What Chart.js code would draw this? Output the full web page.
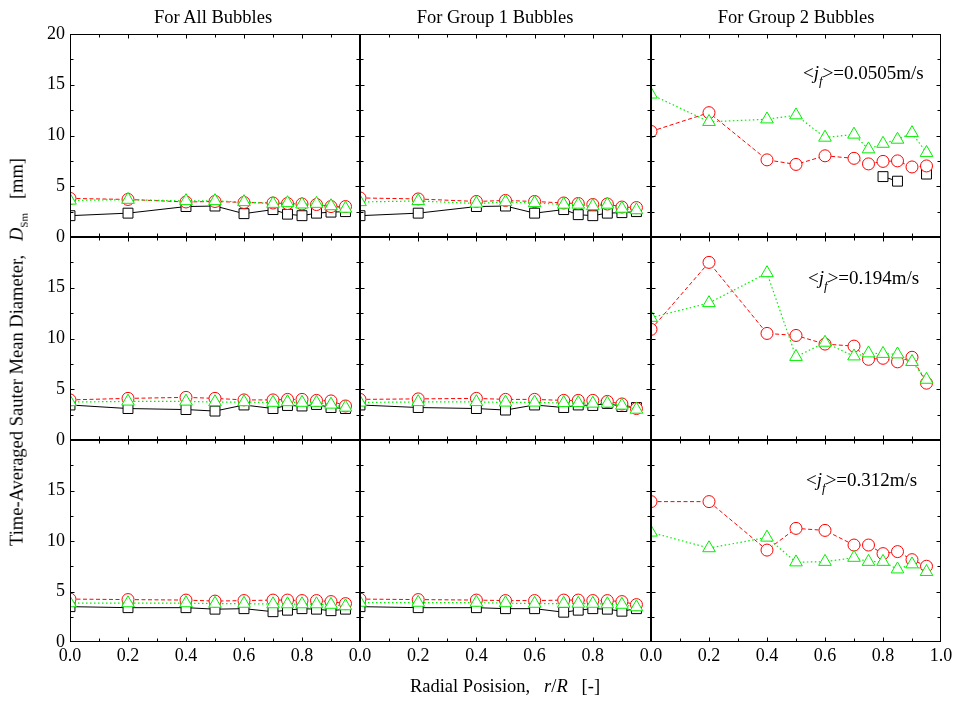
<!DOCTYPE html>
<html>
<head>
<meta charset="utf-8">
<script src="https://cdn.jsdelivr.net/npm/chart.js@4/dist/chart.umd.min.js"></script>
<style>
  html, body { margin: 0; padding: 0; background: #fff; }
  #wrap { position: relative; width: 956px; height: 702px; overflow: hidden; font-family: 'Liberation Serif', 'Times New Roman', serif; color: #000; }
  canvas { position: absolute; }
  .txt { position: absolute; white-space: nowrap; font-size: 18.5px; line-height: 20px; }
  .ctitle { transform: translateX(-50%); }
  .ann { font-size: 19px; line-height: 22px; }
  .ann sub { font-size: 13px; position: relative; top: 1px; }
  #ytitle { left: 20px; top: 352px; transform: translate(-50%, -50%) rotate(-90deg); }
  #ytitle sub { font-size: 11px; }
  #xtitle { left: 505px; top: 676px; transform: translateX(-50%); }
</style>
</head>
<body>
<div id="wrap"></div>
<script>
// ---------- data ----------
const radialPositions = [0, 0.2, 0.4, 0.5, 0.6, 0.7, 0.75, 0.8, 0.85, 0.9, 0.95];
const columnTitles = ['For All Bubbles', 'For Group 1 Bubbles', 'For Group 2 Bubbles'];
const flowLabels = ['0.0505', '0.194', '0.312'];
const yTickValues = [0, 5, 10, 15, 20];
const xTickLabelValues = [0, 0.2, 0.4, 0.6, 0.8, 1.0];

// jf = 0.0505 m/s
const all_j1_square   = [2.1, 2.35, 3.0, 3.05, 2.3, 2.7, 2.25, 2.1, 2.35, 2.45, 2.5];
const all_j1_circle   = [3.8, 3.7, 3.45, 3.5, 3.4, 3.35, 3.3, 3.25, 3.2, 3.0, 3.0];
const all_j1_triangle = [3.6, 3.68, 3.55, 3.55, 3.45, 3.28, 3.35, 3.22, 3.28, 3.05, 2.8];
const g1_j1_square    = [2.1, 2.35, 3.0, 3.05, 2.35, 2.7, 2.2, 2.1, 2.35, 2.4, 2.5];
const g1_j1_circle    = [3.85, 3.75, 3.5, 3.6, 3.5, 3.35, 3.3, 3.2, 3.25, 2.95, 2.9];
const g1_j1_triangle  = [3.45, 3.55, 3.3, 3.45, 3.35, 3.2, 3.2, 3.05, 3.2, 2.8, 2.65];
const g2_j1_square    = [null, null, null, null, null, null, null, 5.95, 5.5, null, 6.2];
const g2_j1_circle    = [10.4, 12.25, 7.6, 7.15, 8.0, 7.75, 7.2, 7.45, 7.5, 6.9, 7.0];
const g2_j1_triangle  = [14.05, 11.35, 11.6, 12.0, 9.8, 10.1, 8.65, 9.2, 9.6, 10.25, 8.3];

// jf = 0.194 m/s
const all_j2_square   = [3.45, 3.1, 3.0, 2.85, 3.45, 3.1, 3.4, 3.35, 3.5, 3.2, 3.1];
const all_j2_circle   = [3.95, 4.1, 4.2, 4.1, 3.95, 3.95, 4.0, 4.0, 3.9, 3.85, 3.35];
const all_j2_triangle = [3.74, 3.8, 3.8, 3.74, 3.74, 3.68, 3.74, 3.68, 3.68, 3.5, 3.2];
const g1_j2_square    = [3.45, 3.2, 3.1, 2.95, 3.45, 3.2, 3.45, 3.4, 3.6, 3.3, 3.2];
const g1_j2_circle    = [4.0, 4.05, 4.1, 4.0, 4.0, 3.9, 3.9, 3.9, 3.8, 3.55, 3.1];
const g1_j2_triangle  = [3.7, 3.75, 3.75, 3.7, 3.7, 3.65, 3.65, 3.6, 3.6, 3.4, 3.0];
const g2_j2_square    = [];
const g2_j2_circle    = [10.9, 17.5, 10.5, 10.3, 9.45, 9.25, 7.95, 8.05, 7.7, 8.15, 5.6];
const g2_j2_triangle  = [12.05, 13.5, 16.45, 8.2, 9.6, 8.25, 8.55, 8.5, 8.45, 7.7, 5.95];

// jf = 0.312 m/s
const all_j3_square   = [3.5, 3.4, 3.4, 3.25, 3.3, 3.0, 3.15, 3.3, 3.25, 3.1, 3.25];
const all_j3_circle   = [4.25, 4.2, 4.15, 4.05, 4.1, 4.15, 4.15, 4.1, 4.1, 4.0, 3.8];
const all_j3_triangle = [3.85, 3.85, 3.85, 3.8, 3.8, 3.75, 3.75, 3.75, 3.75, 3.7, 3.55];
const g1_j3_square    = [3.5, 3.4, 3.4, 3.3, 3.3, 2.95, 3.15, 3.3, 3.25, 3.05, 3.3];
const g1_j3_circle    = [4.25, 4.2, 4.15, 4.1, 4.1, 4.15, 4.15, 4.1, 4.1, 4.0, 3.7];
const g1_j3_triangle  = [3.9, 3.9, 3.9, 3.85, 3.8, 3.8, 3.8, 3.8, 3.75, 3.7, 3.45];
const g2_j3_square    = [];
const g2_j3_circle    = [13.9, 13.9, 9.1, 11.25, 11.05, 9.6, 9.6, 8.75, 8.95, 8.15, 7.5];
const g2_j3_triangle  = [10.85, 9.3, 10.35, 7.9, 7.95, 8.35, 7.95, 7.95, 7.2, 7.7, 6.95];

const panelSeries = [
  [[all_j1_square, all_j1_circle, all_j1_triangle], [g1_j1_square, g1_j1_circle, g1_j1_triangle], [g2_j1_square, g2_j1_circle, g2_j1_triangle]],
  [[all_j2_square, all_j2_circle, all_j2_triangle], [g1_j2_square, g1_j2_circle, g1_j2_triangle], [g2_j2_square, g2_j2_circle, g2_j2_triangle]],
  [[all_j3_square, all_j3_circle, all_j3_triangle], [g1_j3_square, g1_j3_circle, g1_j3_triangle], [g2_j3_square, g2_j3_circle, g2_j3_triangle]]
];

// ---------- layout ----------
const colLeft = [70, 360, 651], colWidth = [290, 291, 290];
const rowTop = [34, 237, 440], rowHeight = [203, 203, 202];
const ML = 45, MR = 20, MT = 12, MB = 30;

Chart.defaults.font.family = "'Liberation Serif', 'Times New Roman', serif";
Chart.defaults.font.size = 18;
Chart.defaults.color = '#000';

const framePlugin = {
  id: 'frame',
  afterDraw(chart) {
    const ctx = chart.ctx, a = chart.chartArea, xs = chart.scales.x, ys = chart.scales.y;
    ctx.save();
    ctx.strokeStyle = '#000';
    ctx.lineWidth = 1;
    const L = Math.round(a.left) + 0.5, R = Math.round(a.right) - 0.5;
    const T = Math.round(a.top) + 0.5, B = Math.round(a.bottom) - 0.5;
    ctx.beginPath();
    xs.ticks.forEach(t => {
      const k = Math.round(t.value * 10);
      if (k <= 0 || k >= 10) return;
      const px = Math.round(xs.getPixelForValue(t.value)) + 0.5;
      const len = (k % 2 === 0) ? 4 : 3;
      ctx.moveTo(px, B); ctx.lineTo(px, B - len);
      ctx.moveTo(px, T); ctx.lineTo(px, T + len);
    });
    ys.ticks.forEach(t => {
      if (t.value <= 0 || t.value >= 20) return;
      const py = Math.round(ys.getPixelForValue(t.value)) + 0.5;
      const len = (t.value % 5 === 0) ? 4 : 3;
      ctx.moveTo(L, py); ctx.lineTo(L + len, py);
      ctx.moveTo(R, py); ctx.lineTo(R - len, py);
    });
    ctx.stroke();
    ctx.strokeRect(L, T, R - L, B - T);
    ctx.restore();
  }
};

const wrap = document.getElementById('wrap');

function makeDatasets(series) {
  const [sq, ci, tr] = series;
  const pts = arr => radialPositions.map((x, i) => ({ x: x, y: (arr[i] === undefined ? null : arr[i]) }));
  const ds = [];
  ds.push({
    label: 'triangle', data: pts(tr), borderColor: '#00ee00', borderWidth: 1.2, borderDash: [1.5, 2.5],
    pointStyle: 'triangle', pointRadius: 7.3, pointBorderWidth: 1, pointBorderColor: '#00ee00', pointBackgroundColor: '#fff', spanGaps: false
  });
  ds.push({
    label: 'circle', data: pts(ci), borderColor: '#ff0000', borderWidth: 1, borderDash: [4, 2.5],
    pointStyle: 'circle', pointRadius: 6, pointBorderWidth: 1, pointBorderColor: '#ff0000', pointBackgroundColor: '#fff', spanGaps: false
  });
  if (sq.length) {
    ds.push({
      label: 'square', data: pts(sq), borderColor: '#000', borderWidth: 1,
      pointStyle: 'rect', pointRadius: 7, pointBorderWidth: 1, pointBorderColor: '#000', pointBackgroundColor: '#fff', spanGaps: false
    });
  }
  return ds;
}

for (let r = 0; r < 3; r++) {
  for (let c = 0; c < 3; c++) {
    const cv = document.createElement('canvas');
    const w = colWidth[c] + ML + MR, h = rowHeight[r] + MT + MB;
    cv.width = w; cv.height = h;
    cv.style.width = w + 'px'; cv.style.height = h + 'px';
    cv.style.left = (colLeft[c] - ML) + 'px';
    cv.style.top = (rowTop[r] - MT) + 'px';
    wrap.appendChild(cv);
    const showY = c === 0, showX = r === 2;
    new Chart(cv, {
      type: 'line',
      data: { datasets: makeDatasets(panelSeries[r][c]) },
      plugins: [framePlugin],
      options: {
        responsive: false, animation: false, devicePixelRatio: 1,
        layout: { padding: { left: 0, right: MR, top: MT, bottom: 0 } },
        plugins: { legend: { display: false }, tooltip: { enabled: false } },
        scales: {
          x: {
            type: 'linear', min: 0, max: 1,
            grid: { display: false, drawTicks: false }, border: { display: false },
            ticks: {
              stepSize: 0.1, autoSkip: false, maxRotation: 0, padding: 3, display: true,
              callback: function (v) {
                if (!showX) return '';
                const k = Math.round(v * 10);
                if (k % 2 !== 0) return '';
                if (k === 10 && c !== 2) return '';
                return xTickLabelValues.includes(k / 10) ? (k / 10).toFixed(1) : '';
              }
            },
            afterFit: s => { s.height = MB; s.paddingLeft = 0; s.paddingRight = 0; }
          },
          y: {
            type: 'linear', min: 0, max: 20,
            grid: { display: false, drawTicks: false }, border: { display: false },
            ticks: {
              stepSize: 2.5, autoSkip: false, padding: 5, display: true,
              callback: function (v) {
                if (!showY) return '';
                if (!yTickValues.includes(v)) return '';
                if (v === 20 && r !== 0) return '';
                return String(v);
              }
            },
            afterFit: s => { s.width = ML; s.paddingTop = 0; s.paddingBottom = 0; }
          }
        }
      }
    });
  }
}

// ---------- text ----------
const titleX = [213, 495, 796];
columnTitles.forEach((t, i) => {
  const d = document.createElement('div');
  d.className = 'txt ctitle';
  d.style.left = titleX[i] + 'px';
  d.style.top = '7px';
  d.textContent = t;
  wrap.appendChild(d);
});
const annPos = [[803, 62], [808, 267], [806, 469]];
flowLabels.forEach((v, i) => {
  const d = document.createElement('div');
  d.className = 'txt ann';
  d.style.left = annPos[i][0] + 'px';
  d.style.top = annPos[i][1] + 'px';
  d.innerHTML = '&lt;<i>j</i><sub><i>f</i></sub>&gt;=' + v + 'm/s';
  wrap.appendChild(d);
});
const yt = document.createElement('div');
yt.className = 'txt'; yt.id = 'ytitle';
yt.innerHTML = 'Time-Averaged Sauter Mean Diameter,&nbsp;&nbsp;&nbsp;<i>D</i><sub>Sm</sub>&nbsp;&nbsp;&nbsp;[mm]';
wrap.appendChild(yt);
const xt = document.createElement('div');
xt.className = 'txt'; xt.id = 'xtitle';
xt.innerHTML = 'Radial Posision,&nbsp;&nbsp;&nbsp;<i>r</i>/<i>R</i>&nbsp;&nbsp;&nbsp;[-]';
wrap.appendChild(xt);
</script>
</body>
</html>
